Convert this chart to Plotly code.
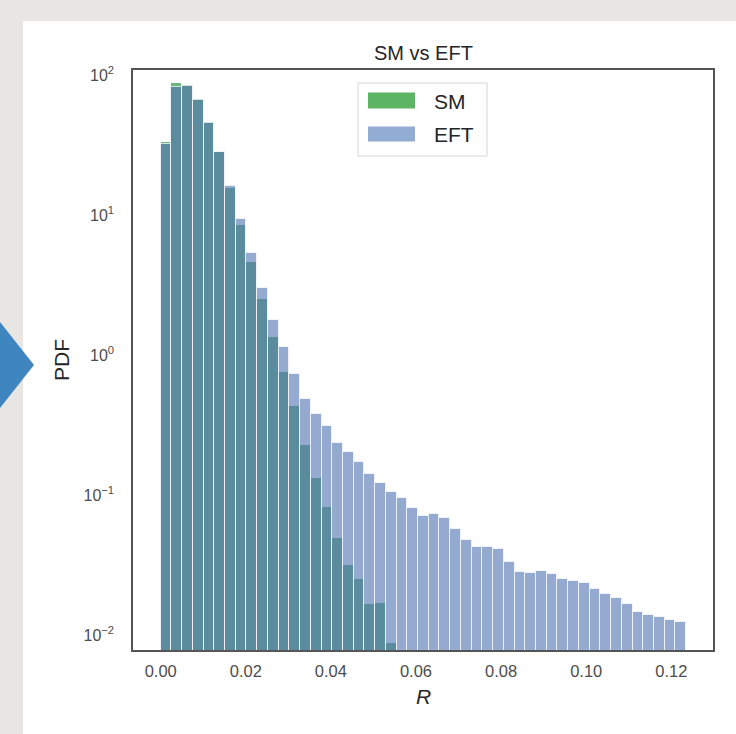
import plotly.graph_objects as go

# ---- data ----
bin_width = 0.00252
n_bins = 49
bin_index = list(range(n_bins))
sm_pdf = [33.4, 87.3, 85.5, 67.5, 46.0, 28.0, 15.5, 8.48, 4.59, 2.50,
          1.34, 0.76, 0.434, 0.228, 0.133, 0.0825, 0.049, 0.0316, 0.025, 0.01665,
          0.01683, 0.0087] + [None] * 27
eft_pdf = [32.1, 82.5, 83.0, 66.0, 45.5, 28.3, 16.1, 9.36, 5.33, 2.99,
           1.78, 1.135, 0.732, 0.485, 0.379, 0.311, 0.234, 0.204, 0.173, 0.141,
           0.121, 0.1045, 0.0957, 0.0803, 0.0711, 0.0732, 0.0682, 0.0572, 0.048, 0.0427,
           0.0423, 0.0411, 0.0334, 0.0280, 0.0276, 0.0287, 0.0273, 0.025, 0.0244, 0.0234,
           0.0212, 0.0196, 0.0183, 0.01665, 0.01466, 0.0139, 0.0135, 0.0128, 0.0123]
x_ticks = [0.00, 0.02, 0.04, 0.06, 0.08, 0.10, 0.12]
x_ticktext = ["0.00", "0.02", "0.04", "0.06", "0.08", "0.10", "0.12"]
y_ticks = [0.01, 0.1, 1, 10, 100]
y_ticktext = ["10<sup>−2</sup>", "10<sup>−1</sup>", "10<sup>0</sup>", "10<sup>1</sup>", "10<sup>2</sup>"]

centers = [(i + 0.5) * bin_width for i in bin_index]

FONT = "Liberation Sans, Arial, sans-serif"
SM_FILL = "rgba(85,168,104,0.85)"
EFT_FILL = "rgba(76,114,176,0.6)"

fig = go.Figure()
fig.add_trace(go.Bar(x=centers, y=sm_pdf, width=bin_width, name="SM",
                     marker=dict(color=SM_FILL, line=dict(color="white", width=1)),
                     showlegend=False))
fig.add_trace(go.Bar(x=centers, y=eft_pdf, width=bin_width, name="EFT",
                     marker=dict(color=EFT_FILL, line=dict(color="rgba(255,255,255,0.7)", width=1)),
                     showlegend=False))

W, H = 736, 734
L, R, T, B = 133, 713, 70, 650
def px(x):
    return (x - L) / (R - L)
def py(y):
    return (B - y) / (B - T)

shapes = [
    # white card
    dict(type="rect", xref="paper", yref="paper", x0=px(23), x1=px(740), y0=py(738), y1=py(21),
         fillcolor="white", line=dict(width=0), layer="below"),
    # blue diamond tip on the left
    dict(type="path", xref="paper", yref="paper",
         path=f"M {px(0)},{py(322)} L {px(34)},{py(365)} L {px(0)},{py(408)} Z",
         fillcolor="#3f86c0", line=dict(width=0), layer="below"),
    # legend box
    dict(type="rect", xref="paper", yref="paper", x0=px(358), x1=px(487), y0=py(156), y1=py(83),
         fillcolor="white", line=dict(color="#d6d6d6", width=1)),
    dict(type="rect", xref="paper", yref="paper", x0=px(368), x1=px(415), y0=py(108.5), y1=py(92.5),
         fillcolor="#5cb464", line=dict(width=0)),
    dict(type="rect", xref="paper", yref="paper", x0=px(368), x1=px(415), y0=py(141.5), y1=py(126.5),
         fillcolor="#92acd4", line=dict(width=0)),
]

annotations = [
    dict(text="SM vs EFT", xref="paper", yref="paper", x=0.5, y=py(53), showarrow=False,
         font=dict(family=FONT, size=20, color="#262626"), xanchor="center", yanchor="middle"),
    dict(text="<i>R</i>", xref="paper", yref="paper", x=0.5, y=py(696), showarrow=False,
         font=dict(family=FONT, size=21, color="#262626"), xanchor="center", yanchor="middle"),
    dict(text="PDF", xref="paper", yref="paper", x=px(61), y=py(360), showarrow=False, textangle=-90,
         font=dict(family=FONT, size=21, color="#262626"), xanchor="center", yanchor="middle"),
    dict(text="SM", xref="paper", yref="paper", x=px(432), y=py(101), showarrow=False,
         font=dict(family=FONT, size=21, color="#262626"), xanchor="left", yanchor="middle"),
    dict(text="EFT", xref="paper", yref="paper", x=px(432), y=py(134), showarrow=False,
         font=dict(family=FONT, size=21, color="#262626"), xanchor="left", yanchor="middle"),
]

fig.update_layout(
    width=W, height=H,
    margin=dict(l=L, r=W - R, t=T, b=H - B, pad=0),
    paper_bgcolor="#e8e6e2", plot_bgcolor="white",
    barmode="overlay", bargap=0,
    shapes=shapes, annotations=annotations,
    font=dict(family=FONT, color="#4d4d4d"),
)
fig.update_xaxes(range=[-0.00651, 0.1298], tickvals=x_ticks, ticktext=x_ticktext,
                 showgrid=False, zeroline=False, showline=True, mirror=True,
                 linecolor="#555555", linewidth=1.5, ticks="", ticklabelstandoff=5,
                 tickfont=dict(family=FONT, size=16.5, color="#4d4d4d"))
fig.update_yaxes(type="log", range=[-2.107, 2.036], tickvals=y_ticks, ticktext=y_ticktext,
                 showgrid=False, zeroline=False, showline=True, mirror=True,
                 linecolor="#555555", linewidth=1.5, ticks="", ticklabelstandoff=14,
                 tickfont=dict(family=FONT, size=16, color="#4d4d4d"))

fig.write_html("out.html", config={"displayModeBar": False},
               post_script="document.body.style.margin='0';document.body.style.overflow='hidden';")
